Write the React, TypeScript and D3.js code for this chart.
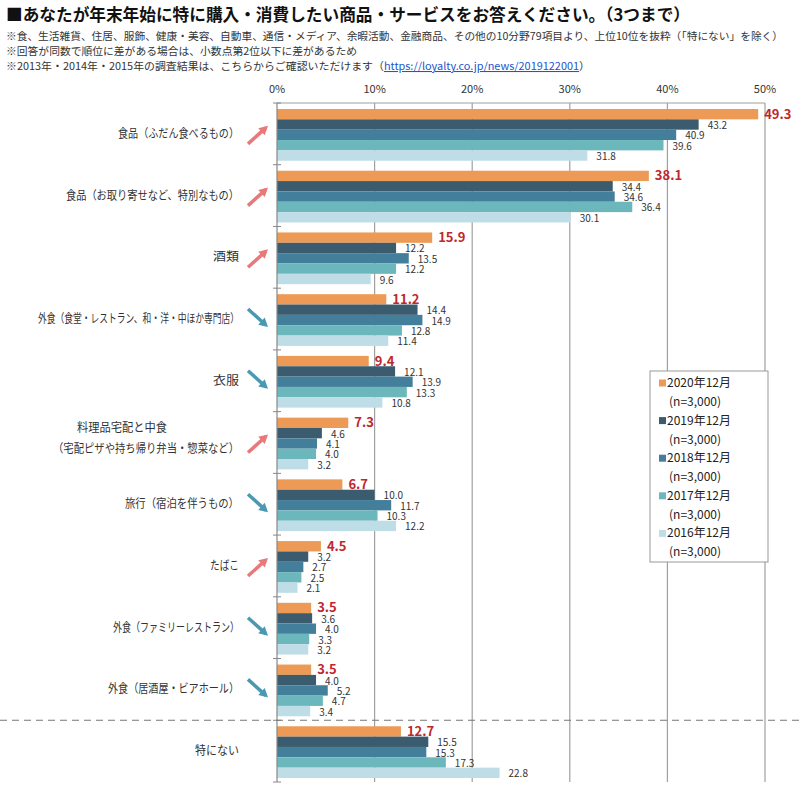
import React from "react";
import * as d3 from "d3";

const categories = [
  "食品（ふだん食べるもの）",
  "食品（お取り寄せなど、特別なもの）",
  "酒類",
  "外食（食堂・レストラン、和・洋・中ほか専門店）",
  "衣服",
  "料理品宅配と中食\n（宅配ピザや持ち帰り弁当・惣菜など）",
  "旅行（宿泊を伴うもの）",
  "たばこ",
  "外食（ファミリーレストラン）",
  "外食（居酒屋・ビアホール）",
  "特にない",
];
const trends = ["up", "up", "up", "down", "down", "up", "down", "up", "down", "down", "none"];

const seriesNames = ["2020年12月", "2019年12月", "2018年12月", "2017年12月", "2016年12月"];
const seriesN = ["(n=3,000)", "(n=3,000)", "(n=3,000)", "(n=3,000)", "(n=3,000)"];
const v2020 = [49.3, 38.1, 15.9, 11.2, 9.4, 7.3, 6.7, 4.5, 3.5, 3.5, 12.7];
const v2019 = [43.2, 34.4, 12.2, 14.4, 12.1, 4.6, 10.0, 3.2, 3.6, 4.0, 15.5];
const v2018 = [40.9, 34.6, 13.5, 14.9, 13.9, 4.1, 11.7, 2.7, 4.0, 5.2, 15.3];
const v2017 = [39.6, 36.4, 12.2, 12.8, 13.3, 4.0, 10.3, 2.5, 3.3, 4.7, 17.3];
const v2016 = [31.8, 30.1, 9.6, 11.4, 10.8, 3.2, 12.2, 2.1, 3.2, 3.4, 22.8];
const seriesValues = [v2020, v2019, v2018, v2017, v2016];
const xTicks = [0, 10, 20, 30, 40, 50];

const colors = ["#EC9A55", "#3B5B6F", "#437F9A", "#6BB7BC", "#BEDDE6"];

const title = "■あなたが年末年始に特に購入・消費したい商品・サービスをお答えください。（3つまで）";
const notes = [
  "※食、生活雑貨、住居、服飾、健康・美容、自動車、通信・メディア、余暇活動、金融商品、その他の10分野79項目より、上位10位を抜粋（「特にない」を除く）",
  "※回答が同数で順位に差がある場合は、小数点第2位以下に差があるため",
];
const note3a = "※2013年・2014年・2015年の調査結果は、こちらからご確認いただけます（";
const note3link = "https://loyalty.co.jp/news/2019122001";
const note3b = "）";

// label widths measured from reference (px)
const labelWidths = [121, 173, 26, 201, 26, 0, 114, 29, 126, 131, 44];
const mlWidths = [90, 186];

const FONT = "'Noto Sans CJK JP', 'Noto Sans', sans-serif";

export default function App() {
  const left = 277, right = 765, top = 103, bottom = 782;
  const x = d3.scaleLinear().domain([0, 50]).range([left, right]);
  const y = d3.scaleBand<number>().domain(d3.range(categories.length)).range([top, bottom]).paddingInner(0);
  const bw = y.bandwidth();
  const barTop = 6;
  const barH = (bw - 10) / 5;

  const arrow = (t: string, cx: number, cy: number) => {
    if (t === "none") return null;
    const up = t === "up";
    const col = up ? "#E9787A" : "#4B98B3";
    const x0 = cx - 10, x1 = cx + 10;
    const y0 = up ? cy + 10 : cy - 10;
    const y1 = up ? cy - 8 : cy + 8;
    const ang = Math.atan2(y1 - y0, x1 - x0);
    const hl = 10;
    const a1 = ang + Math.PI - 0.5, a2 = ang + Math.PI + 0.5;
    const hx1 = x1 + hl * Math.cos(a1), hy1 = y1 + hl * Math.sin(a1);
    const hx2 = x1 + hl * Math.cos(a2), hy2 = y1 + hl * Math.sin(a2);
    return (
      <g>
        <line x1={x0} y1={y0} x2={x1 - 3 * Math.cos(ang)} y2={y1 - 3 * Math.sin(ang)} stroke={col} strokeWidth={3.5} />
        <polygon points={`${x1},${y1} ${hx1},${hy1} ${hx2},${hy2}`} fill={col} />
      </g>
    );
  };

  const dashY = y(10)!;

  return (
    <svg width={800} height={790} style={{ position: "absolute", left: 0, top: 0, background: "#fff" }} fontFamily={FONT}>
      <rect width={800} height={790} fill="#fff" />
      <text x={6} y={21} fontSize={16.5} fontWeight="bold" fill="#111" textLength={684} lengthAdjust="spacingAndGlyphs">{title}</text>
      <text x={6} y={40} fontSize={10.5} fill="#333" textLength={777} lengthAdjust="spacingAndGlyphs">{notes[0]}</text>
      <text x={6} y={55} fontSize={10.5} fill="#333" textLength={351} lengthAdjust="spacingAndGlyphs">{notes[1]}</text>
      <text x={6} y={70} fontSize={10.5} fill="#333" textLength={584} lengthAdjust="spacingAndGlyphs">
        {note3a}
        <tspan fill="#2255CC" textDecoration="underline">{note3link}</tspan>
        {note3b}
      </text>

      {xTicks.map((t) => (
        <g key={t}>
          {t > 0 && <line x1={x(t)} x2={x(t)} y1={top} y2={bottom} stroke="#A0A0A0" strokeWidth={1.2} />}
          <text x={x(t)} y={93} fontSize={11} textAnchor="middle" fill="#333">{t}%</text>
        </g>
      ))}
      <line x1={left} x2={right} y1={top} y2={top} stroke="#A0A0A0" strokeWidth={1.2} />

      {categories.map((c, i) => (
        <g key={i}>
          {seriesValues.map((vals, s) => {
            const by = y(i)! + barTop + s * barH;
            return <rect key={s} x={x(0)} y={by} width={x(vals[i]) - x(0)} height={barH} fill={colors[s]} />;
          })}
        </g>
      ))}

      {categories.map((c, i) => (
        <g key={i}>
          {seriesValues.map((vals, s) => {
            const by = y(i)! + barTop + s * barH;
            const isMain = s === 0;
            return (
              <text
                key={s}
                x={x(vals[i]) + (isMain ? 6 : 9)}
                y={by + barH / 2 + (isMain ? 4.5 : 4.5)}
                fontSize={isMain ? 13 : 10}
                fontWeight={isMain ? "bold" : "normal"}
                fill={isMain ? "#C0272D" : "#333"}
              >
                {vals[i].toFixed(1)}
              </text>
            );
          })}
        </g>
      ))}

      <line x1={left} x2={left} y1={top} y2={bottom} stroke="#888" strokeWidth={1.2} />
      {d3.range(categories.length + 1).map((i) => {
        const yy = i < categories.length ? y(i)! : bottom;
        return <line key={i} x1={left - 4} x2={left + 4} y1={yy} y2={yy} stroke="#888" strokeWidth={1} />;
      })}

      <line x1={0} x2={800} y1={dashY} y2={dashY} stroke="#777" strokeWidth={1.2} strokeDasharray="7,5" />

      {categories.map((c, i) => {
        const cy = y(i)! + bw / 2;
        const lines = c.split("\n");
        if (lines.length === 1) {
          return (
            <text key={i} x={239} y={cy + 4} fontSize={12} textAnchor="end" fill="#333"
              textLength={labelWidths[i]} lengthAdjust="spacingAndGlyphs">{c}</text>
          );
        }
        return (
          <g key={i}>
            <text x={77} y={cy - 11} fontSize={12} fill="#333" textLength={mlWidths[0]} lengthAdjust="spacingAndGlyphs">{lines[0]}</text>
            <text x={53} y={cy + 10} fontSize={12} fill="#333" textLength={mlWidths[1]} lengthAdjust="spacingAndGlyphs">{lines[1]}</text>
          </g>
        );
      })}

      {categories.map((c, i) => (
        <g key={i}>{arrow(trends[i], 258, y(i)! + bw / 2)}</g>
      ))}

      <g>
        <rect x={650} y={371} width={118} height={191} fill="#fff" stroke="#999" strokeWidth={1} />
        {seriesNames.map((n, s) => {
          const ly = 387 + s * 37.6;
          return (
            <g key={s}>
              <rect x={659} y={ly - 7.5} width={7} height={7} fill={colors[s]} />
              <text x={667} y={ly} fontSize={12} fill="#222">{n}</text>
              <text x={669} y={ly + 19} fontSize={12} fill="#222">{seriesN[s]}</text>
            </g>
          );
        })}
      </g>
    </svg>
  );
}
